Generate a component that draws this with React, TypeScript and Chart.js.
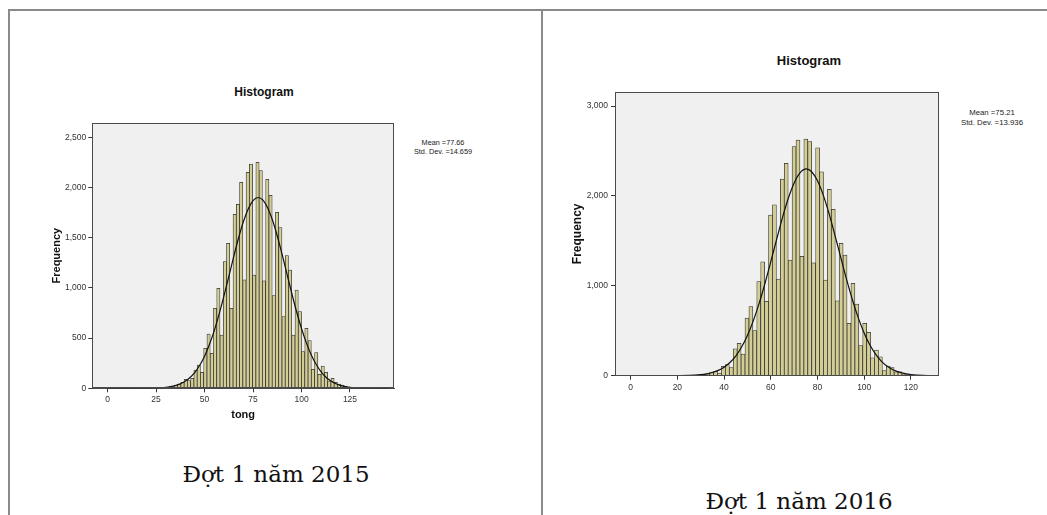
import React, { useEffect, useRef } from "react";
import { Chart, registerables } from "chart.js";
Chart.register(...registerables);

// ---------- Left panel (Đợt 1 năm 2015) ----------
const leftBinCenters = [
  20.11, 21.8, 23.48, 25.16, 26.84, 28.52, 30.21, 31.89, 33.57, 35.25,
  36.93, 38.62, 40.3, 41.98, 43.66, 45.34, 47.03, 48.71, 50.39, 52.07,
  53.75, 55.44, 57.12, 58.8, 60.48, 62.16, 63.85, 65.53, 67.21, 68.89,
  70.57, 72.26, 73.94, 75.62, 77.3, 78.98, 80.67, 82.35, 84.03, 85.71,
  87.39, 89.08, 90.76, 92.44, 94.12, 95.8, 97.49, 99.17, 100.85, 102.53,
  104.21, 105.9, 107.58, 109.26, 110.94, 112.62, 114.31, 115.99, 117.67, 119.35,
  121.03, 122.72, 124.4, 126.08, 127.76, 129.44, 131.13, 132.81,
];
const leftCounts = [
  1, 1, 2, 3, 4, 6, 9, 14, 23, 33,
  43, 60, 90, 76, 100, 182, 232, 159, 398, 541,
  349, 797, 996, 531, 1262, 1444, 797, 1733, 1832, 2052,
  1079, 2151, 2234, 1128, 2251, 2168, 1069, 2081, 1922, 923,
  1753, 1600, 713, 1321, 1178, 531, 979, 763, 365, 598,
  474, 189, 355, 139, 222, 159, 66, 100, 60, 43,
  33, 23, 12, 8, 5, 3, 2, 1,
];
const leftCurveX = [
  0, 10, 20, 25, 30, 32.5, 35, 37.5, 40, 42.5, 45, 47.5, 50, 52.5, 55, 57.5,
  60, 62.5, 65, 67.5, 70, 72.5, 75, 77.66, 80, 82.5, 85, 87.5, 90, 92.5, 95,
  97.5, 100, 102.5, 105, 107.5, 110, 112.5, 115, 117.5, 120, 122.5, 125, 130,
  135, 145,
];
const leftCurveY = [
  0, 0, 1, 3, 10, 17, 28, 45, 70, 107, 159, 229, 320, 436, 575, 738,
  920, 1113, 1309, 1494, 1658, 1786, 1869, 1900, 1876, 1799, 1676, 1517, 1333, 1138, 944,
  760, 595, 452, 334, 239, 167, 113, 74, 47, 29, 18, 10, 3,
  1, 0,
];
const leftXTicks = [0, 25, 50, 75, 100, 125];
const leftYTicks = [0, 500, 1000, 1500, 2000, 2500];
const leftStats = ["Mean =77.66", "Std. Dev. =14.659"];

// ---------- Right panel (Đợt 1 năm 2016) ----------
const rightBinCenters = [
  24.6, 26.28, 27.96, 29.64, 31.32, 33.0, 34.68, 36.36, 38.04, 39.72,
  41.4, 43.08, 44.76, 46.44, 48.12, 49.8, 51.48, 53.16, 54.84, 56.52,
  58.2, 59.88, 61.56, 63.24, 64.92, 66.6, 68.28, 69.96, 71.64, 73.32,
  75.0, 76.68, 78.36, 80.04, 81.72, 83.4, 85.08, 86.76, 88.44, 90.12,
  91.8, 93.48, 95.16, 96.84, 98.52, 100.2, 101.88, 103.56, 105.24, 106.92,
  108.6, 110.28, 111.96, 113.64, 115.32, 117.0, 118.68, 120.36, 122.04, 123.72,
  125.4,
];
const rightCounts = [
  1, 2, 4, 8, 14, 22, 40, 48, 30, 105,
  125, 89, 300, 360, 241, 640, 768, 501, 1046, 1268,
  828, 1788, 1902, 1076, 2186, 2362, 1287, 2548, 2621, 1327,
  2631, 2605, 1255, 2536, 2269, 1064, 2073, 1850, 834, 1472,
  1342, 582, 1027, 797, 334, 582, 482, 200, 285, 211,
  56, 108, 89, 44, 44, 19, 11, 6, 3, 2,
  1,
];
const rightCurveX = [
  0, 10, 20, 25, 30, 32.5, 35, 37.5, 40, 42.5, 45, 47.5, 50, 52.5, 55, 57.5,
  60, 62.5, 65, 67.5, 70, 72.5, 75.21, 77.5, 80, 82.5, 85, 87.5, 90, 92.5, 95,
  97.5, 100, 102.5, 105, 107.5, 110, 112.5, 115, 117.5, 120, 125, 131.8,
];
const rightCurveY = [
  0, 0, 1, 3, 12, 21, 36, 59, 95, 147, 219, 319, 448, 610, 804, 1026,
  1268, 1517, 1759, 1974, 2145, 2257, 2300, 2269, 2168, 2006, 1797, 1559, 1310, 1065, 839,
  640, 473, 338, 234, 157, 102, 64, 39, 23, 13, 4, 0,
];
const rightXTicks = [0, 20, 40, 60, 80, 100, 120];
const rightYTicks = [0, 1000, 2000, 3000];
const rightStats = ["Mean =75.21", "Std. Dev. =13.936"];

const captions = ["Đợt 1 năm 2015", "Đợt 1 năm 2016"];

const SANS = "'Liberation Sans', Arial, sans-serif";

const framePlugin = {
  id: "plotFrame",
  beforeDraw(chart: any) {
    const { ctx, chartArea } = chart;
    ctx.save();
    ctx.fillStyle = "#F0F0F0";
    ctx.fillRect(chartArea.left, chartArea.top, chartArea.width, chartArea.height);
    ctx.restore();
  },
  afterDatasetsDraw(chart: any) {
    const { ctx, chartArea } = chart;
    ctx.save();
    ctx.strokeStyle = "#4a4a4a";
    ctx.lineWidth = 1;
    ctx.strokeRect(
      Math.round(chartArea.left) + 0.5,
      Math.round(chartArea.top) + 0.5,
      Math.round(chartArea.width) - 1,
      Math.round(chartArea.height) - 1
    );
    ctx.restore();
  },
};

type HistProps = {
  left: number;
  top: number;
  width: number;
  height: number;
  pad: { left: number; right: number; top: number; bottom: number };
  yAxisWidth: number;
  xAxisHeight: number;
  xMin: number;
  xMax: number;
  yMax: number;
  bins: number[];
  counts: number[];
  curveX: number[];
  curveY: number[];
  xTicks: number[];
  yTicks: number[];
  yTitleSize: number;
  xTitle?: string;
  xTitlePadBottom?: number;
  tickSize: number;
  yTickPad: number;
  xTickPad: number;
};

function Histogram(p: HistProps) {
  const ref = useRef<HTMLCanvasElement>(null);
  useEffect(() => {
    if (!ref.current) return;
    const chart = new Chart(ref.current, {
      type: "bar",
      data: {
        datasets: [
          {
            type: "line",
            data: p.curveX.map((x, i) => ({ x, y: p.curveY[i] })),
            borderColor: "#111111",
            borderWidth: 1.2,
            pointRadius: 0,
            cubicInterpolationMode: "monotone",
            fill: false,
            order: 0,
          } as any,
          {
            type: "bar",
            data: p.bins.map((x, i) => ({ x, y: p.counts[i] })),
            backgroundColor: "#D3CD96",
            borderColor: "#2f2f2f",
            borderWidth: 0.75,
            barPercentage: 1,
            categoryPercentage: 1,
            order: 1,
          } as any,
        ],
      },
      options: {
        responsive: false,
        animation: false,
        devicePixelRatio: 1,
        layout: { padding: p.pad },
        plugins: {
          legend: { display: false },
          tooltip: { enabled: false },
          title: { display: false },
        },
        scales: {
          x: {
            type: "linear",
            min: p.xMin,
            max: p.xMax,
            offset: false,
            grid: {
              display: true,
              drawOnChartArea: false,
              drawTicks: true,
              tickLength: 4,
              color: "#333333",
              offset: false,
            },
            border: { display: true, color: "#4a4a4a" },
            ticks: {
              font: { family: SANS, size: p.tickSize },
              color: "#333333",
              padding: p.xTickPad,
              maxRotation: 0,
              autoSkip: false,
            },
            afterBuildTicks: (s: any) => {
              s.ticks = p.xTicks.map((v) => ({ value: v }));
            },
            afterFit: (s: any) => {
              s.height = p.xAxisHeight;
            },
            title: p.xTitle
              ? {
                  display: true,
                  text: p.xTitle,
                  color: "#111111",
                  font: { family: SANS, size: 11, weight: "bold" },
                  padding: { top: 0, bottom: p.xTitlePadBottom || 0 },
                }
              : { display: false },
          } as any,
          y: {
            type: "linear",
            min: 0,
            max: p.yMax,
            grid: {
              display: true,
              drawOnChartArea: false,
              drawTicks: true,
              tickLength: 4,
              color: "#333333",
            },
            border: { display: true, color: "#4a4a4a" },
            ticks: {
              font: { family: SANS, size: p.tickSize },
              color: "#333333",
              padding: p.yTickPad,
              autoSkip: false,
              callback: (v: any) => Number(v).toLocaleString("en-US"),
            },
            afterBuildTicks: (s: any) => {
              s.ticks = p.yTicks.map((v) => ({ value: v }));
            },
            afterFit: (s: any) => {
              s.width = p.yAxisWidth;
            },
            title: {
              display: true,
              text: "Frequency",
              color: "#111111",
              font: { family: SANS, size: p.yTitleSize, weight: "bold" },
              padding: { top: 0, bottom: 0 },
            },
          } as any,
        },
      },
      plugins: [framePlugin],
    });
    return () => chart.destroy();
  }, []);
  return (
    <canvas
      ref={ref}
      width={p.width}
      height={p.height}
      style={{
        position: "absolute",
        left: p.left,
        top: p.top,
        width: p.width,
        height: p.height,
      }}
    />
  );
}

function Label(props: {
  x: number;
  y: number;
  text: string;
  size: number;
  bold?: boolean;
  family?: string;
  color?: string;
}) {
  return (
    <div
      style={{
        position: "absolute",
        left: props.x,
        top: props.y,
        transform: "translate(-50%, -50%)",
        whiteSpace: "nowrap",
        fontFamily: props.family || SANS,
        fontSize: props.size,
        fontWeight: props.bold ? "bold" : "normal",
        lineHeight: 1,
        color: props.color || "#111111",
      }}
    >
      {props.text}
    </div>
  );
}

export default function App() {
  return (
    <div
      style={{
        position: "absolute",
        left: 0,
        top: 0,
        width: 1047,
        height: 515,
        overflow: "hidden",
        background: "#ffffff",
      }}
    >
      {/* table frame */}
      <div style={{ position: "absolute", left: 8, top: 9, width: 1039, height: 2, background: "#8a8a8a" }} />
      <div style={{ position: "absolute", left: 8, top: 9, width: 2, height: 506, background: "#8a8a8a" }} />
      <div style={{ position: "absolute", left: 541, top: 9, width: 2, height: 506, background: "#8a8a8a" }} />

      {/* left chart */}
      <Label x={264} y={92} text="Histogram" size={12} bold />
      <Histogram
        left={20}
        top={100}
        width={390}
        height={330}
        pad={{ left: 30, right: 16, top: 23, bottom: 0 }}
        yAxisWidth={42.3}
        xAxisHeight={41.7}
        xMin={-7.9}
        xMax={147.7}
        yMax={2642}
        bins={leftBinCenters}
        counts={leftCounts}
        curveX={leftCurveX}
        curveY={leftCurveY}
        xTicks={leftXTicks}
        yTicks={leftYTicks}
        yTitleSize={11}
        xTitle="tong"
        xTitlePadBottom={8.4}
        tickSize={8.5}
        yTickPad={2}
        xTickPad={2}
      />
      <Label x={443} y={142.7} text={leftStats[0]} size={7.3} color="#222" />
      <Label x={443} y={151.7} text={leftStats[1]} size={7.3} color="#222" />

      {/* right chart */}
      <Label x={809} y={60} text="Histogram" size={13} bold />
      <Histogram
        left={560}
        top={80}
        width={400}
        height={320}
        pad={{ left: 10, right: 21.5, top: 12, bottom: 0 }}
        yAxisWidth={45}
        xAxisHeight={24.3}
        xMin={-6.7}
        xMax={131.8}
        yMax={3156}
        bins={rightBinCenters}
        counts={rightCounts}
        curveX={rightCurveX}
        curveY={rightCurveY}
        xTicks={rightXTicks}
        yTicks={rightYTicks}
        yTitleSize={12}
        tickSize={8.5}
        yTickPad={3}
        xTickPad={3}
      />
      <Label x={992} y={113.3} text={rightStats[0]} size={7.8} color="#222" />
      <Label x={992} y={123.3} text={rightStats[1]} size={7.8} color="#222" />

      {/* captions */}
      <Label x={276} y={474} text={captions[0]} size={23} family="'DejaVu Serif', serif" />
      <Label x={799} y={501} text={captions[1]} size={23} family="'DejaVu Serif', serif" />
    </div>
  );
}
